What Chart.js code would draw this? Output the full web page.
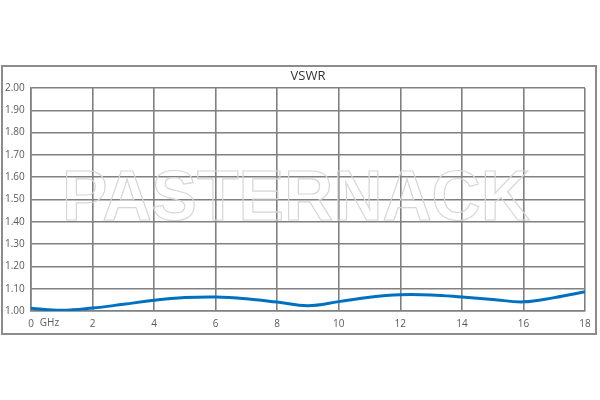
<!DOCTYPE html>
<html>
<head>
<meta charset="utf-8">
<script src="https://cdn.jsdelivr.net/npm/chart.js@4.4.1/dist/chart.umd.min.js"></script>
<style>
  html, body { margin: 0; padding: 0; background: #fff; }
  #wrap { width: 600px; height: 400px; position: relative; }
</style>
</head>
<body>
<div id="wrap"><canvas id="vswrChart"></canvas></div>
<script>
// 周波数 (GHz) と VSWR の値
const freqGHz = [0, 1, 2, 3, 4, 5, 6, 7, 8, 9, 10, 11, 12, 13, 14, 15, 16, 17, 18];
const vswr = [1.012, 1.003, 1.013, 1.030, 1.048, 1.060, 1.063, 1.055, 1.040, 1.024,
              1.042, 1.062, 1.073, 1.072, 1.063, 1.052, 1.041, 1.060, 1.086];
const yTicks = [1.0, 1.1, 1.2, 1.3, 1.4, 1.5, 1.6, 1.7, 1.8, 1.9, 2.0];
const xTicks = [0, 2, 4, 6, 8, 10, 12, 14, 16, 18];

const points = freqGHz.map((f, i) => ({ x: f, y: vswr[i] }));

// 枠線・タイトル・透かし・単位を描くプラグイン
const decorPlugin = {
  id: 'decor',
  beforeDatasetsDraw(chart) {
    const ctx = chart.ctx;
    ctx.save();
    // 透かし文字
    ctx.font = 'bold 70px "Liberation Sans", Arial, sans-serif';
    ctx.textBaseline = 'middle';
    ctx.textAlign = 'left';
    const text = 'PASTERNACK';
    const w = ctx.measureText(text).width;
    const targetW = 468;
    ctx.translate(62, 201);
    ctx.scale(targetW / w, 1);
    ctx.strokeStyle = '#d6d6d6';
    ctx.lineWidth = 1.2;
    ctx.strokeText(text, 0, 0);
    ctx.restore();
  },
  afterDraw(chart) {
    const ctx = chart.ctx;
    const xs = chart.scales.x;
    ctx.save();
    // 外枠
    ctx.strokeStyle = '#8c8c8c';
    ctx.lineWidth = 2;
    ctx.strokeRect(2, 66, 594, 268);
    // タイトル
    ctx.fillStyle = '#333333';
    ctx.font = '13px "Open Sans", sans-serif';
    ctx.textAlign = 'center';
    ctx.textBaseline = 'middle';
    ctx.fillText('VSWR', 308, 76);
    // 単位
    ctx.fillStyle = '#595959';
    ctx.font = '10px "Open Sans", sans-serif';
    ctx.fillText('GHz', xs.getPixelForValue(0.6), 323);
    ctx.restore();
  }
};

new Chart(document.getElementById('vswrChart'), {
  type: 'line',
  data: {
    datasets: [{
      label: 'VSWR',
      data: points,
      borderColor: '#0070c0',
      borderWidth: 3,
      pointRadius: 0,
      tension: 0.4,
      fill: false
    }]
  },
  options: {
    responsive: true,
    maintainAspectRatio: false,
    animation: false,
    layout: {
      padding: { left: 5, right: 15, top: 88, bottom: 64 }
    },
    plugins: {
      legend: { display: false },
      title: { display: false },
      tooltip: { enabled: false }
    },
    scales: {
      x: {
        type: 'linear',
        min: 0,
        max: 18,
        afterBuildTicks: (scale) => { scale.ticks = xTicks.map(v => ({ value: v })); },
        afterFit: (scale) => { scale.height = 25; },
        grid: { color: '#808080', lineWidth: 1.6, drawTicks: false },
        border: { color: '#808080', width: 1.6 },
        ticks: {
          color: '#595959',
          font: { family: 'Open Sans', size: 10 },
          padding: 7,
          maxRotation: 0,
          callback: (v) => String(v)
        }
      },
      y: {
        min: 1.0,
        max: 2.0,
        afterBuildTicks: (scale) => { scale.ticks = yTicks.map(v => ({ value: v })); },
        afterFit: (scale) => { scale.width = 26; },
        grid: { color: '#808080', lineWidth: 1.6, drawTicks: false },
        border: { color: '#808080', width: 1.6 },
        ticks: {
          color: '#595959',
          font: { family: 'Open Sans', size: 10 },
          crossAlign: 'far',
          padding: 4,
          callback: (v) => Number(v).toFixed(2)
        }
      }
    }
  },
  plugins: [decorPlugin]
});
</script>
</body>
</html>
